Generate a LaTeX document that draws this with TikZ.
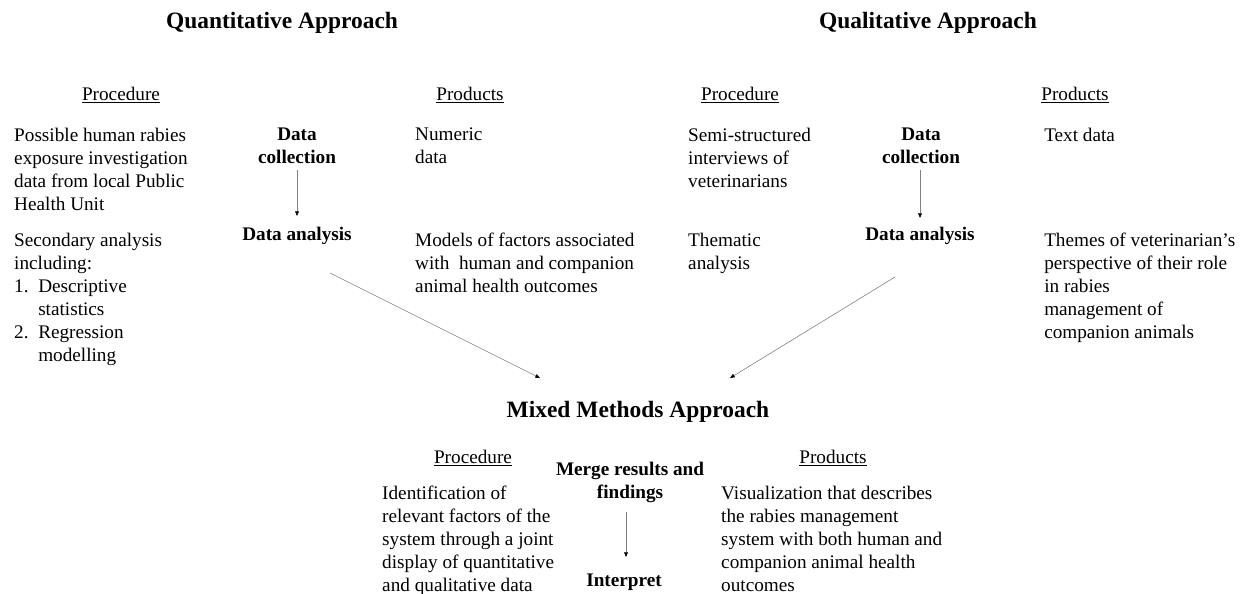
\documentclass[tikz,border=0pt]{standalone}
\usepackage{fontspec}
\setmainfont{Liberation Serif}
\usetikzlibrary{arrows.meta}

\tikzset{
  heading/.style={font=\fontsize{20}{24}\selectfont\bfseries, inner sep=0pt},
  subhead/.style={font=\fontsize{16.4}{19.6}\selectfont, inner sep=0pt},
  body/.style={font=\fontsize{16.4}{19.6}\selectfont, align=left, anchor=north west, inner sep=0pt},
  stage/.style={font=\fontsize{16.4}{19.6}\selectfont\bfseries, align=center, anchor=north, inner sep=0pt},
  flow/.style={draw=gray, line width=0.5pt, -{Triangle[length=4pt,width=3.2pt,color=black]}},
}

\begin{document}
\begin{tikzpicture}[x=0.03cm,y=-0.03cm]
\useasboundingbox (0,0) rectangle (1244,594);

% headings
\node[heading] (quant) at (282,23) {Quantitative Approach};
\node[heading] (qual) at (928,23) {Qualitative Approach};
\node[heading] (mix) at (638,412) {Mixed Methods Approach};

\foreach \x/\t in {121/Procedure,470/Products,740/Procedure,1075/Products}
  \node[subhead] at (\x,95) {\underline{\t}};
\foreach \x/\t in {473/Procedure,833/Products}
  \node[subhead] at (\x,458) {\underline{\t}};

% quantitative
\node[body] (qnproc) at (14,128) {Possible human rabies\\exposure investigation\\data from local Public\\Health Unit};
\node[body] (qnsec) at (14,233) {Secondary analysis\\including:\\1.\enspace Descriptive\\\hphantom{1.\enspace}statistics\\2.\enspace Regression\\\hphantom{2.\enspace}modelling};
\node[stage] (dc1) at (297,128) {Data\\collection};
\node[stage] (da1) at (297,227) {Data analysis};
\node[body] (qnprod) at (415,128) {Numeric\\data};
\node[body] (qnmod) at (415,233) {Models of factors associated\\with\ \ human and companion\\animal health outcomes};

% qualitative
\node[body] (qlproc) at (688,128) {Semi-structured\\interviews of\\veterinarians};
\node[body] (qlthem) at (688,233) {Thematic\\analysis};
\node[stage] (dc2) at (921,128) {Data\\collection};
\node[stage] (da2) at (920,227) {Data analysis};
\node[body] (qlprod) at (1044,128) {Text data};
\node[body] (qlthemes) at (1044,233) {Themes of veterinarian’s\\perspective of their role\\in rabies\\management of\\companion animals};

% mixed
\node[stage] (merge) at (630,462) {Merge results and\\findings};
\node[stage] (interp) at (624,574) {Interpret};
\node[body] (mxproc) at (382,486) {Identification of\\relevant factors of the\\system through a joint\\display of quantitative\\and qualitative data};
\node[body] (mxprod) at (721,486) {Visualization that describes\\the rabies management\\system with both human and\\companion animal health\\outcomes};

% arrows
\coordinate (qnout) at (330,273);
\coordinate (qlout) at (895,277);
\coordinate (mixinL) at (540,378);
\coordinate (mixinR) at (730,378);
\draw[flow] (297,170) -- (297,216);
\draw[flow] (920,170) -- (920,218);
\draw[flow] (626,512) -- (626,557);
\draw[flow] (qnout) -- (mixinL);
\draw[flow] (qlout) -- (mixinR);

\end{tikzpicture}
\end{document}
